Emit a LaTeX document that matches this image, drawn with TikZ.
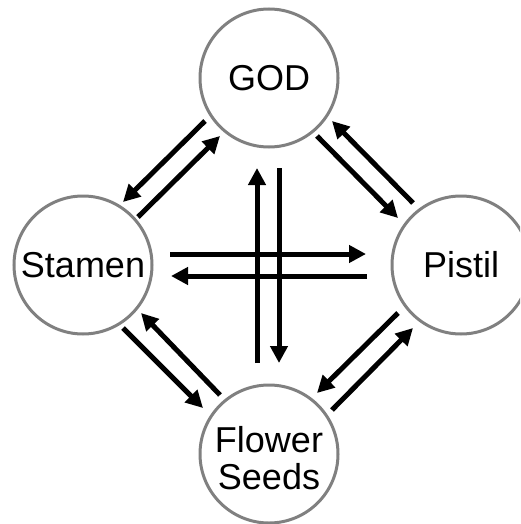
\documentclass[tikz,border=0pt]{standalone}
\usepackage{fontspec}
\setmainfont{Liberation Sans}
\usetikzlibrary{arrows.meta}
\tikzset{
  bubble/.style={circle, draw=black!50, line width=3pt, minimum size=138pt, inner sep=0pt,
    font=\fontsize{36}{37}\selectfont, align=center, text=black},
  caption/.style={inner sep=0pt, font=\fontsize{36}{37}\selectfont, align=center, text=black},
  flow/.style={line width=5pt, -{Triangle[length=17pt,width=17pt]}}
}
\begin{document}
\begin{tikzpicture}[x=1pt,y=-1pt]
\useasboundingbox (0,0) rectangle (520,524);
\begin{scope}
\clip (0,0) rectangle (520,524);
\node[bubble] (god) at (269,78) {GOD};
\node[bubble] (stamen) at (83,265) {Stamen};
\node[bubble] (pistil) at (461,265) {Pistil};
\node[bubble] (seeds) at (269,454) {};
\end{scope}
\node[caption] (seedstext) at (269,458.5) {Flower\\Seeds};
% arrow end points
\coordinate (gs1) at (205,121); \coordinate (gs2) at (123,202);
\coordinate (sg1) at (138,217); \coordinate (sg2) at (220,136);
\coordinate (gp1) at (317,136); \coordinate (gp2) at (398,218);
\coordinate (pg1) at (413,203); \coordinate (pg2) at (332,121);
\coordinate (pf1) at (398,313); \coordinate (pf2) at (317,393);
\coordinate (fp1) at (332,410); \coordinate (fp2) at (413,328);
\coordinate (sf1) at (123,328); \coordinate (sf2) at (203,408);
\coordinate (fs1) at (220,395); \coordinate (fs2) at (141,313);
\coordinate (sp1) at (170,254); \coordinate (sp2) at (366,254);
\coordinate (ps1) at (367,276); \coordinate (ps2) at (171,276);
\coordinate (fg1) at (257,363); \coordinate (fg2) at (257,168);
\coordinate (gf1) at (279,168); \coordinate (gf2) at (279,363);
\draw[flow] (gs1) -- (gs2);
\draw[flow] (sg1) -- (sg2);
\draw[flow] (gp1) -- (gp2);
\draw[flow] (pg1) -- (pg2);
\draw[flow] (pf1) -- (pf2);
\draw[flow] (fp1) -- (fp2);
\draw[flow] (sf1) -- (sf2);
\draw[flow] (fs1) -- (fs2);
\draw[flow] (sp1) -- (sp2);
\draw[flow] (ps1) -- (ps2);
\draw[flow] (fg1) -- (fg2);
\draw[flow] (gf1) -- (gf2);
\end{tikzpicture}
\end{document}
